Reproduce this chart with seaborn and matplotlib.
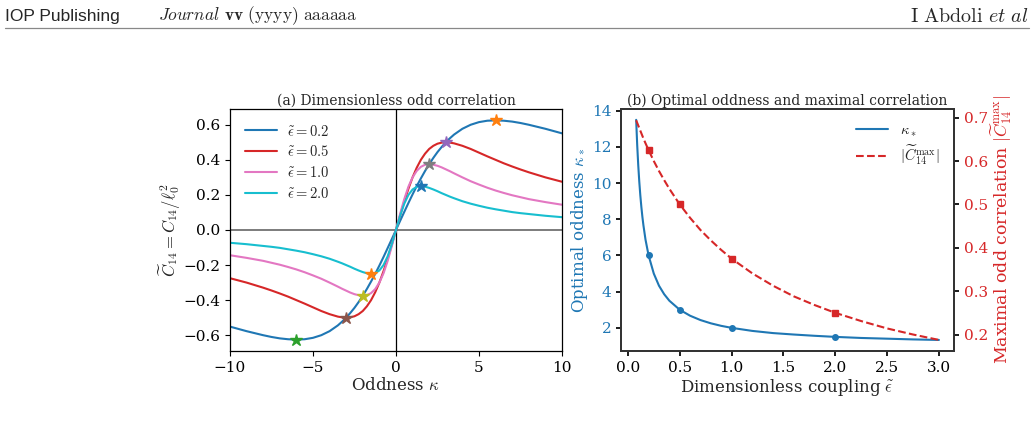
import numpy as np
import pandas as pd
import matplotlib
matplotlib.use("Agg")
import matplotlib.pyplot as plt
from matplotlib.lines import Line2D
import seaborn as sns

#############################################################
# Data
kappa = [-10, -9, -8, -7.5, -7, -6.5, -6, -5.5, -5, -4.5, -4, -3.5, -3.25, -3, -2.75, -2.5, -2.25, -2,
         -1.75, -1.5, -1.25, -1, -0.75, -0.5, -0.25,
         0,
         0.25, 0.5, 0.75, 1, 1.25, 1.5, 1.75, 2, 2.25, 2.5, 2.75, 3, 3.25, 3.5, 4, 4.5, 5, 5.5, 6, 6.5,
         7, 7.5, 8, 9, 10]

c14_eps02 = [-0.551, -0.577, -0.600, -0.610, -0.618, -0.623, -0.625, -0.623, -0.615, -0.600, -0.577, -0.544,
             -0.523, -0.500, -0.473, -0.444, -0.411, -0.375, -0.336, -0.294, -0.250, -0.203, -0.154, -0.103,
             -0.052,
             0.0,
             0.052, 0.103, 0.154, 0.203, 0.250, 0.294, 0.336, 0.375, 0.411, 0.444, 0.473, 0.500, 0.523, 0.544,
             0.577, 0.600, 0.615, 0.623, 0.625, 0.623, 0.618, 0.610, 0.600, 0.577, 0.551]
c14_eps05 = [-0.275, -0.300, -0.329, -0.345, -0.362, -0.380, -0.400, -0.420, -0.441, -0.462, -0.480, -0.494,
             -0.498, -0.500, -0.498, -0.492, -0.480, -0.462, -0.435, -0.400, -0.355, -0.300, -0.235, -0.162,
             -0.083,
             0.0,
             0.083, 0.162, 0.235, 0.300, 0.355, 0.400, 0.435, 0.462, 0.480, 0.492, 0.498, 0.500, 0.498, 0.494,
             0.480, 0.462, 0.441, 0.420, 0.400, 0.380, 0.362, 0.345, 0.329, 0.300, 0.275]
c14_eps10 = [-0.144, -0.159, -0.176, -0.187, -0.198, -0.211, -0.225, -0.241, -0.259, -0.278, -0.300, -0.323,
             -0.335, -0.346, -0.357, -0.366, -0.372, -0.375, -0.372, -0.360, -0.337, -0.300, -0.247, -0.176,
             -0.092,
             0.0,
             0.092, 0.176, 0.247, 0.300, 0.337, 0.360, 0.372, 0.375, 0.372, 0.366, 0.357, 0.346, 0.335, 0.323,
             0.300, 0.278, 0.259, 0.241, 0.225, 0.211, 0.198, 0.187, 0.176, 0.159, 0.144]
c14_eps20 = [-0.073, -0.081, -0.091, -0.096, -0.102, -0.110, -0.118, -0.127, -0.138, -0.150, -0.164, -0.181,
             -0.190, -0.200, -0.210, -0.221, -0.231, -0.240, -0.247, -0.250, -0.246, -0.231, -0.200, -0.150,
             -0.081,
             0.0,
             0.081, 0.150, 0.200, 0.231, 0.246, 0.250, 0.247, 0.240, 0.231, 0.221, 0.210, 0.200, 0.190, 0.181,
             0.164, 0.150, 0.138, 0.127, 0.118, 0.110, 0.102, 0.096, 0.091, 0.081, 0.073]

eps_labels = [r"$\tilde{\epsilon} = 0.2$", r"$\tilde{\epsilon} = 0.5$",
              r"$\tilde{\epsilon} = 1.0$", r"$\tilde{\epsilon} = 2.0$"]

# extrema (stars)
star_kappa_max = [6, 3, 2, 1.5]
star_c_max = [0.625, 0.5, 0.375, 0.25]
star_kappa_min = [-6, -3, -2, -1.5]
star_c_min = [-0.625, -0.5, -0.375, -0.25]

# panel (b)
eps = [0.08, 0.09, 0.1, 0.11, 0.12, 0.13, 0.14, 0.15, 0.17, 0.2, 0.25, 0.3, 0.35, 0.4, 0.5, 0.6, 0.7,
       0.8, 0.9, 1.0, 1.2, 1.4, 1.6, 1.8, 2.0, 2.25, 2.5, 2.75, 3.0]
kappa_star = [13.5, 12.11, 11.0, 10.09, 9.33, 8.69, 8.14, 7.67, 6.88, 6.0, 5.0, 4.33, 3.86, 3.5, 3.0, 2.67,
              2.43, 2.25, 2.11, 2.0, 1.83, 1.71, 1.63, 1.56, 1.5, 1.44, 1.4, 1.36, 1.33]
c14_max = [0.694, 0.688, 0.682, 0.676, 0.670, 0.664, 0.658, 0.652, 0.641, 0.625, 0.600, 0.577, 0.556,
           0.536, 0.500, 0.469, 0.441, 0.417, 0.395, 0.375, 0.341, 0.3125, 0.288, 0.268, 0.250, 0.231,
           0.214, 0.200, 0.1875]
eps_marks = [0.2, 0.5, 1.0, 2.0]
kappa_marks = [6, 3, 2, 1.5]
cmax_marks = [0.625, 0.5, 0.375, 0.25]

#############################################################
sns.set_theme(style="ticks")
plt.rcParams['font.family'] = 'serif'
plt.rcParams['font.serif'] = ['DejaVu Serif']
plt.rcParams['mathtext.fontset'] = 'cm'
plt.rcParams['axes.edgecolor'] = 'black'
plt.rcParams['xtick.color'] = 'black'
plt.rcParams['ytick.color'] = 'black'
plt.rcParams['axes.linewidth'] = 0.9

pal = sns.color_palette("tab10")
blue, orange, green, red, purple, brown, pink, gray, olive, cyan = pal

fig = plt.figure(figsize=(10.34, 4.24), dpi=100)

# page header
fig.text(0.005, 0.962, "IOP Publishing", family="Liberation Sans", fontsize=12.5, va="center")
fig.text(0.153, 0.962, r"$\mathit{Journal}$ $\mathbf{vv}$ $\mathrm{(yyyy)\ aaaaaa}$", fontsize=12.5, va="center")
fig.text(0.995, 0.962, r"$\mathrm{I\ Abdoli}$ $\mathit{et\ al}$", fontsize=14.5, va="center", ha="right")
fig.add_artist(Line2D([0.005, 0.995], [0.933, 0.933], transform=fig.transFigure, color="#888888", lw=0.9))

#############################################################
# (a)
ax1 = fig.add_axes([0.2224, 0.1722, 0.3211, 0.5708])
df_a = pd.DataFrame({"kappa": kappa, "e02": c14_eps02, "e05": c14_eps05, "e10": c14_eps10, "e20": c14_eps20})
line_colors = [blue, red, pink, cyan]
for col, c, lab in zip(["e02", "e05", "e10", "e20"], line_colors, eps_labels):
    sns.lineplot(data=df_a, x="kappa", y=col, ax=ax1, color=c, lw=1.5, label=lab)

ax1.axhline(0, color="#666666", lw=1.2, zorder=0)
ax1.axvline(0, color="black", lw=0.9, zorder=0)

max_colors = [orange, purple, gray, blue]
min_colors = [green, brown, olive, orange]
for i in range(4):
    ax1.plot(star_kappa_max[i], star_c_max[i], marker="*", ms=9, color=max_colors[i], ls="none")
    ax1.plot(star_kappa_min[i], star_c_min[i], marker="*", ms=9, color=min_colors[i], ls="none")

ax1.set_xlim(-10, 10)
ax1.set_ylim(-0.69, 0.69)
ax1.set_xticks([-10, -5, 0, 5, 10])
ax1.set_yticks([-0.6, -0.4, -0.2, 0.0, 0.2, 0.4, 0.6])
ax1.tick_params(labelsize=11, length=3.5, width=0.8)
ax1.set_xlabel(r"Oddness $\kappa$", fontsize=12, labelpad=2)
ax1.set_ylabel(r"$\widetilde{C}_{14} = C_{14}/\ell_0^2$", fontsize=12)
ax1.yaxis.set_label_coords(-0.142, 0.5)
ax1.set_title("(a) Dimensionless odd correlation", fontsize=10, pad=3)
ax1.legend(loc="upper left", frameon=False, fontsize=10.5, handlelength=2.2, borderaxespad=0.6,
           labelspacing=0.4, handletextpad=0.7)

#############################################################
# (b)
ax2 = fig.add_axes([0.6006, 0.1722, 0.3221, 0.5708])
ax3 = ax2.twinx()
df_b = pd.DataFrame({"eps": eps, "kstar": kappa_star, "cmax": c14_max})

sns.lineplot(data=df_b, x="eps", y="kstar", ax=ax2, color=blue, lw=1.5, label=r"$\kappa_*$", legend=False)
ax2.plot(eps_marks, kappa_marks, "o", color=blue, ms=4)
sns.lineplot(data=df_b, x="eps", y="cmax", ax=ax3, color=red, lw=1.5, ls="--",
             label=r"$|\widetilde{C}_{14}^{\max}|$", legend=False)
ax3.plot(eps_marks, cmax_marks, "s", color=red, ms=4.5)

ax2.set_xticks([0.0, 0.5, 1.0, 1.5, 2.0, 2.5, 3.0])
ax2.set_yticks([2, 4, 6, 8, 10, 12, 14])
ax3.set_yticks([0.2, 0.3, 0.4, 0.5, 0.6, 0.7])
ax2.set_xlim(-0.066, 3.146)
ax2.set_ylim(0.72, 14.1)
ax3.set_ylim(0.162, 0.72)

for a in (ax2, ax3):
    for s in a.spines.values():
        s.set_color("#333333")
        s.set_linewidth(1.3)
ax2.tick_params(axis="x", labelsize=11, length=3.5)
ax2.tick_params(axis="y", labelsize=11, length=3.5, labelcolor=blue)
ax3.tick_params(axis="y", labelsize=11, length=3.5, labelcolor=red)
ax2.set_xlabel(r"Dimensionless coupling $\tilde{\epsilon}$", fontsize=12, labelpad=2)
ax2.set_ylabel(r"Optimal oddness $\kappa_*$", fontsize=12, color=blue)
ax2.yaxis.set_label_coords(-0.094, 0.5)
ax3.set_ylabel(r"Maximal odd correlation $|\widetilde{C}_{14}^{\max}|$", fontsize=12.5, color=red)
ax3.yaxis.set_label_coords(1.102, 0.5)
ax2.set_title("(b) Optimal oddness and maximal correlation", fontsize=10, pad=3)

h1, l1 = ax2.get_legend_handles_labels()
h2, l2 = ax3.get_legend_handles_labels()
ax2.legend(h1 + h2, l1 + l2, loc="upper right", frameon=False, fontsize=10.5, handlelength=2.2,
           borderaxespad=0.6, labelspacing=0.3)

fig.savefig("out.png", dpi=100)
